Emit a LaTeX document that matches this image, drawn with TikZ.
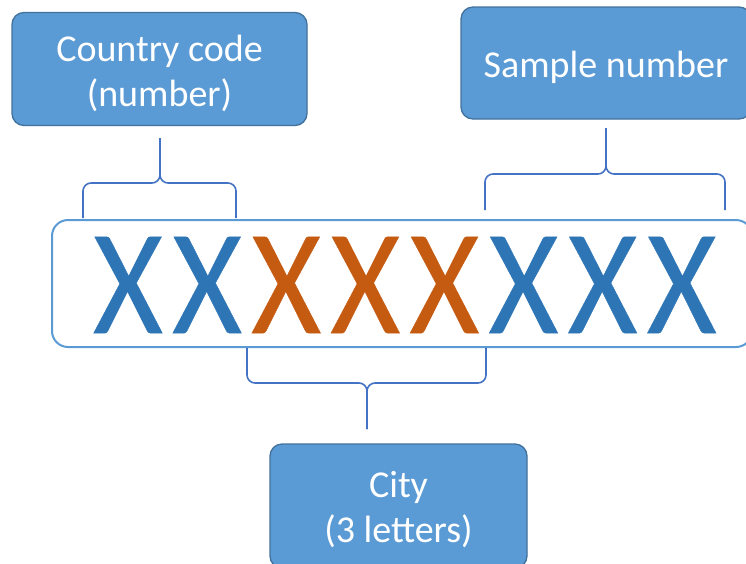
\documentclass[tikz,border=0pt]{standalone}
\usepackage{fontspec}
\usetikzlibrary{calc}
\setmainfont{Carlito}
\newfontfamily\xfont[FakeBold=0.3]{Carlito}
\definecolor{boxfill}{HTML}{5B9BD5}
\definecolor{boxline}{HTML}{41719C}
\definecolor{xblue}{HTML}{2E75B6}
\definecolor{xorange}{HTML}{C55A11}
\definecolor{bracecol}{HTML}{4472C4}
\definecolor{framecol}{HTML}{5B9BD5}
\begin{document}
\begin{tikzpicture}[x=1pt,y=-1pt,
  box/.style={draw=boxline, line width=1.3pt, fill=boxfill, rounded corners=12pt, inner sep=0pt},
  boxtext/.style={text=white, align=center, font=\fontsize{38}{45}\selectfont, inner sep=0pt},
  br/.style={draw=bracecol, line width=1.6pt, rounded corners=8pt},
  codeframe/.style={draw=framecol, line width=2pt, rounded corners=16pt, inner sep=0pt},
  xl/.style={font=\xfont\fontsize{150}{150}\selectfont, inner sep=0pt}]
\useasboundingbox (0,0) rectangle (746,563);
\clip (0,0) rectangle (746,563);
% boxes
\node[box, minimum width=295pt, minimum height=113pt] (cc) at (159.5,69) {};
\node[box, minimum width=290pt, minimum height=112pt] (sn) at (606,63) {};
\node[box, minimum width=257pt, minimum height=124pt] (ci) at (398.5,506) {};
\node[boxtext] (cct) at ($(cc.center)+(0,4)$) {Country code\\(number)};
\node[boxtext] (snt) at ($(sn.center)+(0,4)$) {Sample number};
\node[boxtext] (cit) at ($(ci.center)+(0,4)$) {City\\(3 letters)};
% code frame
\node[codeframe, minimum width=700pt, minimum height=127pt] (code) at (402,283.5) {};
\foreach \i/\c in {0/xblue,1/xblue,2/xorange,3/xorange,4/xorange,5/xblue,6/xblue,7/xblue}
  \node[xl, text=\c] (x\i) at (128+79.1*\i,285) {\scalebox{0.9}[1]{X}};
% brace coordinates
\coordinate (b1l) at (83,218);  \coordinate (b1r) at (236,218);
\coordinate (b1m) at (160,183); \coordinate (b1t) at (160,138);
\coordinate (b2l) at (485,210); \coordinate (b2r) at (725,210);
\coordinate (b2m) at (606,174); \coordinate (b2t) at (606,128);
\coordinate (b3l) at (247,348); \coordinate (b3r) at (486,348);
\coordinate (b3m) at (367,383); \coordinate (b3t) at (367,429);
% braces
\draw[br] (b1l) |- (b1m) -- (b1t);
\draw[br] (b1r) |- (b1m) -- (b1t);
\draw[br] (b2l) |- (b2m) -- (b2t);
\draw[br] (b2r) |- (b2m) -- (b2t);
\draw[br] (b3l) |- (b3m) -- (b3t);
\draw[br] (b3r) |- (b3m) -- (b3t);
\end{tikzpicture}
\end{document}
